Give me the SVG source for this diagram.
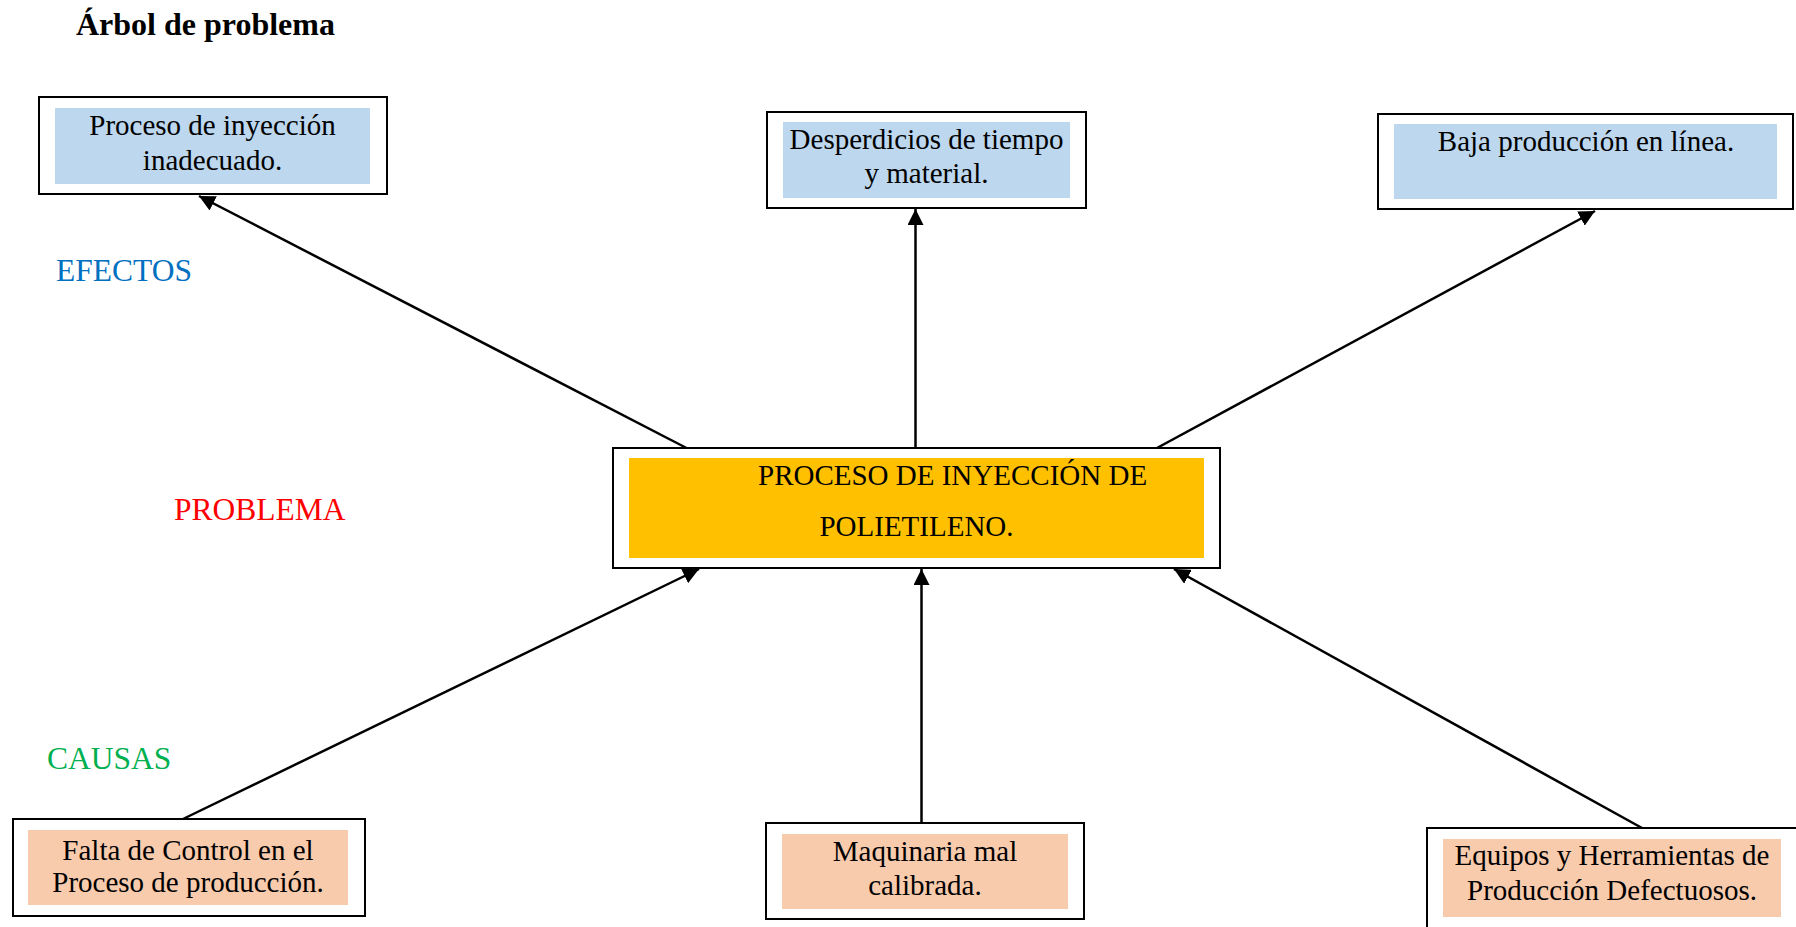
<svg xmlns="http://www.w3.org/2000/svg" width="1796" height="927" viewBox="0 0 1796 927">
  <style>
    text { font-family: "Liberation Serif", "Times New Roman", serif; }
    .box { fill: #ffffff; stroke: #000000; stroke-width: 2; }
    .effect { fill: #BDD7EE; }
    .core { fill: #FFC000; }
    .cause { fill: #F8CBAD; }
    .t { font-size: 29px; fill: #000000; text-anchor: middle; }
    .label { font-size: 31.5px; }
    .title { font-size: 32px; font-weight: bold; fill: #000000; }
    .edge { stroke: #000000; stroke-width: 2.5; fill: none; marker-end: url(#head); }
  </style>
  <defs>
    <marker id="head" markerUnits="userSpaceOnUse" markerWidth="17" markerHeight="16" refX="16" refY="8" orient="auto">
      <path d="M0,0 L16,8 L0,16 z" fill="#000000"/>
    </marker>
  </defs>

  <rect width="1796" height="927" fill="#ffffff"/>

  <text class="title" x="76" y="35">Árbol de problema</text>

  <text class="label" x="56" y="281" fill="#0070C0">EFECTOS</text>
  <text class="label" x="174" y="519.5" fill="#FF0000">PROBLEMA</text>
  <text class="label" x="47" y="768.5" fill="#00B050">CAUSAS</text>

  <g id="connectors">
    <line class="edge" x1="686.5" y1="448" x2="199" y2="196"/>
    <line class="edge" x1="915.5" y1="448" x2="915.5" y2="209"/>
    <line class="edge" x1="1157" y1="448" x2="1595" y2="211"/>
    <line class="edge" x1="183" y1="819" x2="699" y2="569"/>
    <line class="edge" x1="921.5" y1="823" x2="921.5" y2="569"/>
    <line class="edge" x1="1642" y1="828" x2="1174" y2="569"/>
  </g>

  <g id="effect-1">
    <rect class="box" x="39" y="97" width="348" height="97"/>
    <rect class="effect" x="55" y="108" width="315" height="76"/>
    <text class="t" x="212.5" y="135">Proceso de inyección</text>
    <text class="t" x="212.5" y="170">inadecuado.</text>
  </g>

  <g id="effect-2">
    <rect class="box" x="767" y="112" width="319" height="96"/>
    <rect class="effect" x="783" y="122" width="287" height="76"/>
    <text class="t" x="926.5" y="149">Desperdicios de tiempo</text>
    <text class="t" x="926.5" y="183">y material.</text>
  </g>

  <g id="effect-3">
    <rect class="box" x="1378" y="114" width="415" height="95"/>
    <rect class="effect" x="1394" y="124" width="383" height="75"/>
    <text class="t" x="1586" y="151">Baja producción en línea.</text>
  </g>

  <g id="problem">
    <rect class="box" x="613" y="448" width="607" height="120"/>
    <rect class="core" x="629" y="458" width="575" height="100"/>
    <text class="t" x="758" y="485" style="text-anchor:start">PROCESO DE INYECCIÓN DE</text>
    <text class="t" x="916.5" y="536">POLIETILENO.</text>
  </g>

  <g id="cause-1">
    <rect class="box" x="13" y="819" width="352" height="97"/>
    <rect class="cause" x="28" y="830" width="320" height="75"/>
    <text class="t" x="188" y="860">Falta de Control en el</text>
    <text class="t" x="188" y="892">Proceso de producción.</text>
  </g>

  <g id="cause-2">
    <rect class="box" x="766" y="823" width="318" height="96"/>
    <rect class="cause" x="782" y="834" width="286" height="75"/>
    <text class="t" x="925" y="861">Maquinaria mal</text>
    <text class="t" x="925" y="895">calibrada.</text>
  </g>

  <g id="cause-3">
    <rect class="box" x="1427" y="828" width="380" height="110"/>
    <rect class="cause" x="1443" y="839" width="338" height="78"/>
    <text class="t" x="1612" y="865">Equipos y Herramientas de</text>
    <text class="t" x="1612" y="900">Producción Defectuosos.</text>
  </g>
</svg>
